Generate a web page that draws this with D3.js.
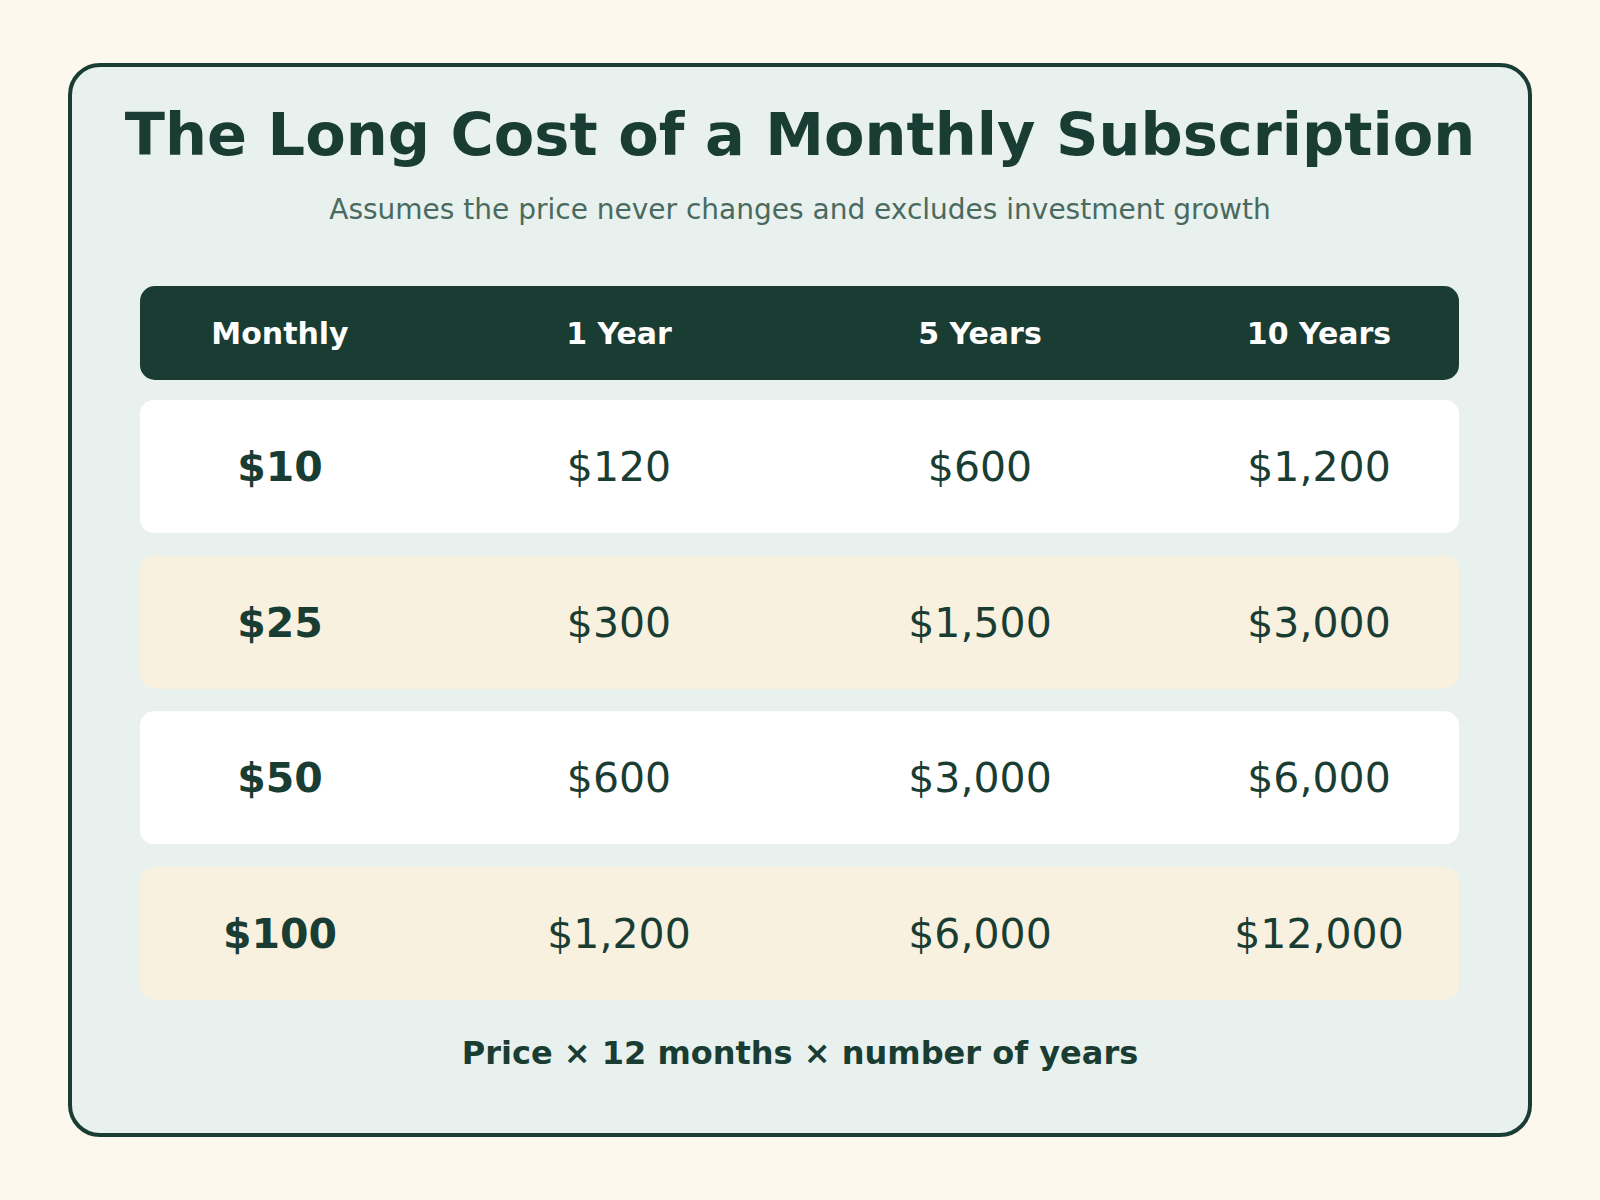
<!DOCTYPE html>
<html><head><meta charset="utf-8">
<script src="https://cdn.jsdelivr.net/npm/d3@7"></script>
<style>body{margin:0;background:#fdf8ee;}svg{display:block;font-family:"DejaVu Sans",sans-serif;}</style>
</head><body><svg id="c" width="1600" height="1200"></svg>
<script>
const columns = ["Monthly","1 Year","5 Years","10 Years"];
const monthly = [10,25,50,100];
const years = [1,5,10];
const oneYear = [120,300,600,1200];
const fiveYears = [600,1500,3000,6000];
const tenYears = [1200,3000,6000,12000];

const svg = d3.select("#c");
const dark = "#1a3d33";
svg.append("rect").attr("x",70).attr("y",65).attr("width",1460).attr("height",1070)
  .attr("rx",30).attr("fill","#e8f1ed").attr("stroke",dark).attr("stroke-width",4);
svg.append("text").attr("x",800).attr("y",155).attr("text-anchor","middle")
  .attr("font-size",59).attr("font-weight","bold").attr("fill",dark)
  .text("The Long Cost of a Monthly Subscription");
svg.append("text").attr("x",800).attr("y",219).attr("text-anchor","middle")
  .attr("font-size",28).attr("fill","#4a6a5f")
  .text("Assumes the price never changes and excludes investment growth");

const x = d3.scalePoint().domain(columns).range([280,1319]);
// fix uneven spacing of reference columns
const colX = {"Monthly":280,"1 Year":619,"5 Years":980,"10 Years":1319};
const left=140, right=1459;
svg.append("rect").attr("x",left).attr("y",286).attr("width",right-left).attr("height",94)
  .attr("rx",15).attr("fill",dark);
svg.selectAll(".h").data(columns).join("text")
  .attr("x",d=>colX[d]).attr("y",333).attr("dy","0.35em").attr("text-anchor","middle")
  .attr("font-size",30).attr("font-weight","bold").attr("fill","#fff").text(d=>d);

const y = d3.scaleBand().domain(monthly.map(String)).range([400,1000]).paddingInner(0.145);
const fmt = d3.format("$,");
const rows = monthly.map((m,i)=>[m,oneYear[i],fiveYears[i],tenYears[i]]);
const g = svg.selectAll(".r").data(rows).join("g");
g.append("rect").attr("x",left).attr("y",(d)=>y(String(d[0]))).attr("width",right-left)
  .attr("height",y.bandwidth()).attr("rx",14)
  .attr("fill",(d,i)=>i%2?"#f8f1e0":"#ffffff");
g.selectAll("text").data(d=>d.map((v,j)=>({v,j,r:d[0]}))).join("text")
  .attr("x",d=>colX[columns[d.j]]).attr("y",d=>y(String(d.r))+y.bandwidth()/2)
  .attr("dy","0.35em").attr("text-anchor","middle").attr("font-size",41)
  .attr("font-weight",d=>d.j===0?"bold":"normal").attr("fill",dark)
  .text(d=>fmt(d.v));

svg.append("text").attr("x",800).attr("y",1053).attr("dy","0.35em").attr("text-anchor","middle")
  .attr("font-size",32).attr("font-weight","bold").attr("fill",dark)
  .text("Price × 12 months × number of years");
</script></body></html>
